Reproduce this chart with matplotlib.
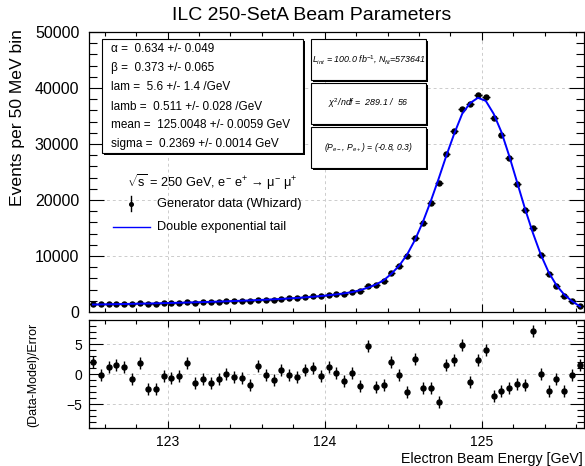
import numpy as np
import matplotlib
matplotlib.use('Agg')
import matplotlib.pyplot as plt
from matplotlib.patches import Rectangle
from matplotlib.lines import Line2D
from matplotlib.ticker import MultipleLocator

plt.rcParams['font.family'] = ['Liberation Sans', 'DejaVu Sans']
plt.rcParams['mathtext.fontset'] = 'custom'
plt.rcParams['mathtext.rm'] = 'Liberation Sans'
plt.rcParams['mathtext.it'] = 'Liberation Sans:italic'
plt.rcParams['mathtext.sf'] = 'Liberation Sans'

# binning: 50 MeV bins starting at 122.5 GeV
e_low = 122.5
bin_width = 0.05

# events per bin
counts = [1404, 1351, 1423, 1463, 1473, 1429, 1560, 1419, 1448, 1574,
          1593, 1644, 1768, 1675, 1740, 1757, 1830, 1917, 1946, 1988,
          1992, 2193, 2192, 2223, 2377, 2417, 2490, 2651, 2774, 2832,
          3050, 3159, 3269, 3573, 3780, 4658, 4754, 5514, 7014, 8285,
          9987, 13175, 15807, 19483, 23070, 28248, 32321, 36310, 37057, 38712,
          38469, 34708, 31598, 27415, 22849, 18146, 14948, 10245, 6868, 4699,
          2915, 1903, 1028]

# fitted model at the bin centres
fit = [1330, 1355, 1380, 1405, 1430, 1460, 1490, 1520, 1550, 1585,
       1620, 1655, 1695, 1735, 1775, 1820, 1865, 1915, 1965, 2020,
       2075, 2135, 2200, 2270, 2345, 2425, 2515, 2615, 2725, 2850,
       2990, 3150, 3335, 3560, 3900, 4350, 4900, 5650, 6850, 8300,
       10300, 12900, 16100, 19800, 23800, 28000, 31900, 35400, 37300, 38250,
       37700, 35400, 32100, 27800, 23100, 18400, 14100, 10250, 7100, 4760,
       3070, 1910, 980]

# (data-model)/error
pulls = [2.03, -0.10, 1.15, 1.54, 1.15, -0.82, 1.81, -2.58, -2.58, -0.27,
         -0.66, -0.27, 1.76, -1.43, -0.82, -1.48, -0.82, 0.05, -0.44, -0.71,
         -1.81, 1.26, -0.16, -0.99, 0.66, -0.16, -0.49, 0.71, 0.93, -0.33,
         1.10, 0.16, -1.15, 0.22, -1.92, 4.67, -2.09, -1.81, 1.98, -0.16,
         -3.08, 2.42, -2.31, -2.25, -4.73, 1.48, 2.36, 4.84, -1.26, 2.36,
         3.96, -3.68, -2.80, -2.31, -1.65, -1.87, 7.14, -0.05, -2.75, -0.88,
         -2.80, -0.16, 1.54]

centers = e_low + bin_width * (np.arange(len(counts)) + 0.5)
x_max = e_low + bin_width * len(counts)

W, H = 585, 466
def fx(px):
    return px / W
def fy(py):
    return 1 - py / H

fig = plt.figure(figsize=(W / 100, H / 100), dpi=100)
ax = fig.add_axes([fx(89), fy(312), (584 - 89) / W, (312 - 32) / H])
ax2 = fig.add_axes([fx(89), fy(428), (584 - 89) / W, (428 - 320) / H])

grid_kw = dict(color='#cccccc', ls=(0, (3, 3)), lw=0.7)

# main panel
ax.errorbar(centers, counts, xerr=bin_width / 2, yerr=np.sqrt(counts), fmt='o',
            color='black', ms=3.6, elinewidth=1, capsize=0, zorder=3)
ax.plot(centers, fit, color='#0000ff', lw=1.4, zorder=4)
ax.set_xlim(e_low, x_max)
ax.set_ylim(0, 50000)
ax.xaxis.set_major_locator(MultipleLocator(1))
ax.xaxis.set_minor_locator(MultipleLocator(0.2))
ax.yaxis.set_major_locator(MultipleLocator(10000))
ax.yaxis.set_minor_locator(MultipleLocator(2000))
ax.grid(True, which='major', **grid_kw)
ax.tick_params(which='both', direction='in', top=True, right=True,
               labelbottom=False, labelsize=11.5, width=0.8, pad=7)
ax.tick_params(axis='y', which='major', length=11)
ax.tick_params(axis='y', which='minor', length=5.5)
ax.tick_params(axis='x', which='major', length=6)
ax.tick_params(axis='x', which='minor', length=3)

# pull panel
ax2.errorbar(centers, pulls, yerr=1, fmt='o', color='black', ms=3.6,
             elinewidth=1, capsize=0, zorder=3)
ax2.set_xlim(e_low, x_max)
ax2.set_ylim(-9, 9)
ax2.xaxis.set_major_locator(MultipleLocator(1))
ax2.xaxis.set_minor_locator(MultipleLocator(0.2))
ax2.yaxis.set_major_locator(MultipleLocator(5))
ax2.yaxis.set_minor_locator(MultipleLocator(1))
ax2.grid(True, which='major', **grid_kw)
ax2.tick_params(which='both', direction='in', top=True, right=True,
                labelsize=10, width=0.8, pad=5)
ax2.tick_params(axis='y', which='major', length=10)
ax2.tick_params(axis='y', which='minor', length=5)
ax2.tick_params(axis='x', which='major', length=5)
ax2.tick_params(axis='x', which='minor', length=3)

for a in (ax, ax2):
    for s in a.spines.values():
        s.set_linewidth(0.9)

# titles and axis labels
fig.text(fx(312), fy(15), 'ILC 250-SetA Beam Parameters', ha='center', va='center', fontsize=14)
fig.text(fx(18), fy(29), 'Events per 50 MeV bin', rotation=90, ha='center', va='top', fontsize=12.6)
fig.text(fx(33), fy(375), '(Data-Model)/Error', rotation=90, ha='center', va='center', fontsize=9)
fig.text(fx(583), fy(459), 'Electron Beam Energy [GeV]', ha='right', va='center', fontsize=10.2)


def pave(x0, y0, x1, y1):
    fig.add_artist(Rectangle((fx(x0 + 2), fy(y1 + 2)), (x1 - x0) / W, (y1 - y0) / H,
                             transform=fig.transFigure, facecolor='black',
                             edgecolor='none', zorder=5))
    fig.add_artist(Rectangle((fx(x0), fy(y1)), (x1 - x0) / W, (y1 - y0) / H,
                             transform=fig.transFigure, facecolor='white',
                             edgecolor='black', lw=0.8, zorder=5))


# fit parameter box
pave(102, 39, 303, 153)
params = ['α =  0.634 +/- 0.049',
          'β =  0.373 +/- 0.065',
          'lam =  5.6 +/- 1.4 /GeV',
          'lamb =  0.511 +/- 0.028 /GeV',
          'mean =  125.0048 +/- 0.0059 GeV',
          'sigma =  0.2369 +/- 0.0014 GeV']
rows = [49.5, 68, 87, 106.5, 125.5, 144]
for txt, py in zip(params, rows):
    fig.text(fx(111), fy(py), txt, ha='left', va='center', fontsize=8.5, zorder=6)

# info boxes on the right
info = [r'$L_{int}$ = 100.0 fb$^{\mathit{-1}}$, $N_{fit}$=573641',
        r'$\chi^{2}$/ndf =  289.1 /  56',
        r'($P_{e-}$, $P_{e+}$) = (-0.8, 0.3)']
info_size = [6.4, 6.4, 6.2]
for i, (txt, fs) in enumerate(zip(info, info_size)):
    top = 39 + 44 * i
    pave(311, top, 426, top + 41)
    fig.text(fx(368.5), fy(top + 20.5), txt, ha='center', va='center',
             fontsize=fs, style='italic', zorder=6)

# legend
fig.text(fx(127), fy(182), r'$\sqrt{\mathrm{s}}$ = 250 GeV, e$^{-}$ e$^{+}$ → μ$^{-}$ μ$^{+}$',
         ha='left', va='center', fontsize=9.2)
fig.add_artist(Line2D([fx(131), fx(131)], [fy(196), fy(211)], transform=fig.transFigure,
                      color='black', lw=1))
fig.add_artist(Line2D([fx(131)], [fy(203.5)], transform=fig.transFigure, color='black',
                      marker='o', ms=2.6))
fig.text(fx(157), fy(204), 'Generator data (Whizard)', ha='left', va='center', fontsize=9.2)
fig.add_artist(Line2D([fx(113), fx(150)], [fy(227), fy(227)], transform=fig.transFigure,
                      color='#0000ff', lw=1))
fig.text(fx(157), fy(227), 'Double exponential tail', ha='left', va='center', fontsize=9.2)

fig.savefig('out.png', dpi=100)
